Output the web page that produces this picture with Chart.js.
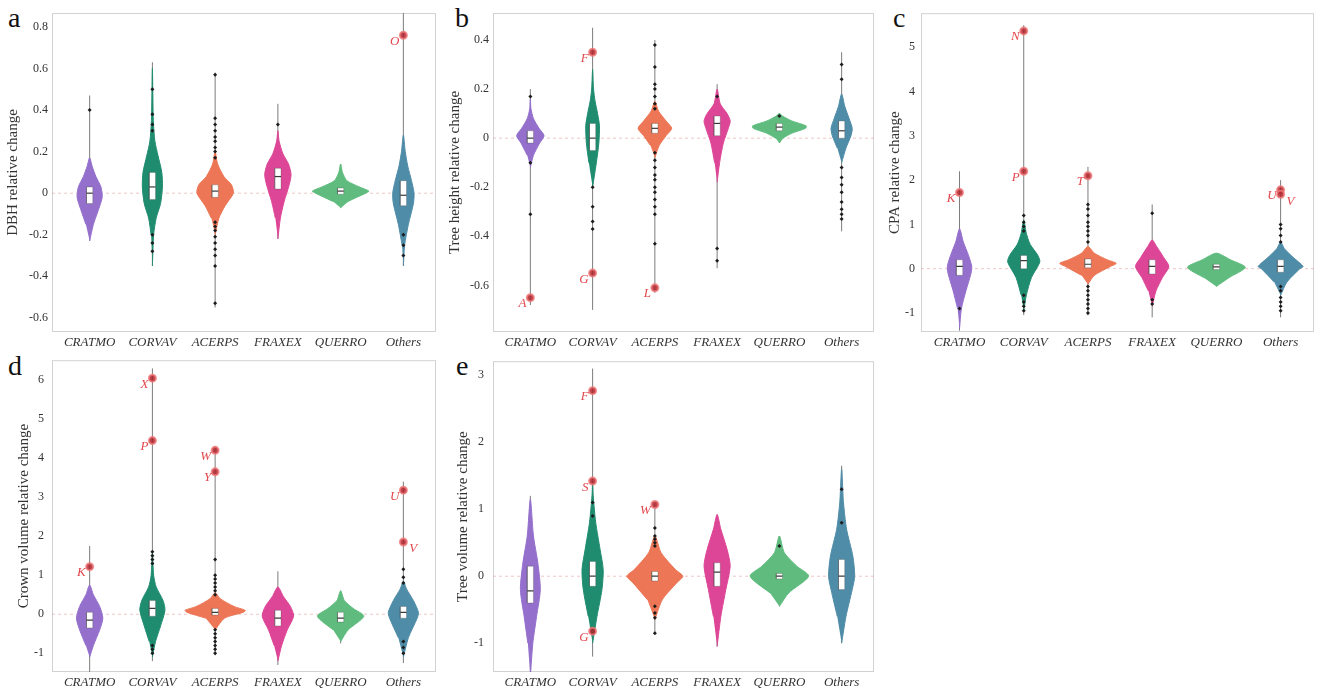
<!DOCTYPE html>
<html>
<head>
<meta charset="utf-8">
<script src="https://cdn.jsdelivr.net/npm/chart.js@4.4.0/dist/chart.umd.min.js"></script>
<style>
  body { margin: 0; background: #fff; width: 1324px; height: 693px; position: relative; overflow: hidden; }
  .panel { position: absolute; }
  .tag { position: absolute; font: 28px "Liberation Serif", serif; line-height: 28px; color: #111; }
</style>
</head>
<body>
<div class="tag" style="left:8px;top:4px">a</div>
<div class="tag" style="left:455px;top:4px">b</div>
<div class="tag" style="left:893px;top:4px">c</div>
<div class="tag" style="left:8px;top:352px">d</div>
<div class="tag" style="left:456px;top:352px">e</div>

<div class="panel" style="left:0;top:0"><canvas id="dbh" width="442" height="352"></canvas></div>
<div class="panel" style="left:440px;top:0"><canvas id="height" width="440" height="352"></canvas></div>
<div class="panel" style="left:880px;top:0"><canvas id="cpa" width="444" height="352"></canvas></div>
<div class="panel" style="left:0;top:345px"><canvas id="crown" width="442" height="347"></canvas></div>
<div class="panel" style="left:440px;top:345px"><canvas id="volume" width="440" height="347"></canvas></div>

<script>
const categories = ['CRATMO', 'CORVAV', 'ACERPS', 'FRAXEX', 'QUERRO', 'Others'];

// violin outlines: [value, half width] from bottom tip to top tip
// boxes: [q1, median, q3]; ranges: [min, max]; named: flagged trees

// DBH relative change
const dbhTicks = [0.8, 0.6, 0.4, 0.2, 0, -0.2, -0.4, -0.6];
const dbhShape = [
  [[-0.23, 0], [-0.15, 0.06], [-0.08, 0.14], [-0.02, 0.2], [0.03, 0.18], [0.08, 0.1], [0.13, 0.04], [0.17, 0]],
  [[-0.35, 0], [-0.2, 0.02], [-0.12, 0.06], [-0.05, 0.13], [0.03, 0.16], [0.1, 0.15], [0.18, 0.09], [0.25, 0.04], [0.35, 0.015], [0.6, 0]],
  [[-0.2, 0], [-0.12, 0.06], [-0.06, 0.16], [0.0, 0.29], [0.04, 0.26], [0.08, 0.14], [0.14, 0.04], [0.2, 0]],
  [[-0.22, 0], [-0.12, 0.04], [-0.04, 0.1], [0.04, 0.18], [0.09, 0.21], [0.14, 0.17], [0.19, 0.08], [0.25, 0.02], [0.3, 0]],
  [[-0.07, 0], [-0.04, 0.12], [0.0, 0.4], [0.01, 0.45], [0.03, 0.3], [0.06, 0.1], [0.1, 0.03], [0.14, 0]],
  [[-0.35, 0], [-0.25, 0.02], [-0.15, 0.08], [-0.05, 0.16], [0.0, 0.17], [0.06, 0.13], [0.13, 0.07], [0.2, 0.03], [0.28, 0]]
];
const dbhBox = [[-0.05, 0, 0.03], [-0.03, 0.03, 0.1], [-0.02, 0.01, 0.04], [0.02, 0.08, 0.12], [-0.005, 0.01, 0.025], [-0.06, -0.01, 0.06]];
const dbhRange = [[-0.23, 0.47], [-0.35, 0.63], [-0.55, 0.58], [-0.22, 0.43], [-0.07, 0.14], [-0.35, 0.95]];
const dbhOutliers = [
  [0.4],
  [0.5, 0.38, 0.33, 0.3, -0.2, -0.24, -0.28],
  [0.57, 0.36, 0.33, 0.3, 0.27, 0.25, 0.22, 0.2, 0.17, -0.14, -0.16, -0.18, -0.21, -0.24, -0.27, -0.3, -0.35, -0.53],
  [0.33],
  [],
  [-0.2, -0.25, -0.3]
];
const dbhNamed = [{ cat: 5, y: 0.76, text: 'O' }];

// Tree height relative change
const heightTicks = [0.4, 0.2, 0, -0.2, -0.4, -0.6];
const heightShape = [
  [[-0.12, 0], [-0.07, 0.05], [-0.02, 0.15], [0.01, 0.22], [0.04, 0.14], [0.08, 0.05], [0.12, 0.01], [0.16, 0]],
  [[-0.2, 0], [-0.1, 0.06], [-0.02, 0.1], [0.05, 0.11], [0.1, 0.08], [0.15, 0.04], [0.2, 0.015], [0.28, 0]],
  [[-0.08, 0], [-0.03, 0.07], [0.01, 0.18], [0.04, 0.27], [0.07, 0.18], [0.11, 0.06], [0.15, 0]],
  [[-0.18, 0], [-0.1, 0.04], [-0.02, 0.1], [0.04, 0.18], [0.07, 0.21], [0.1, 0.16], [0.14, 0.05], [0.2, 0]],
  [[-0.02, 0], [0.0, 0.06], [0.02, 0.2], [0.04, 0.42], [0.05, 0.43], [0.07, 0.2], [0.09, 0.05], [0.1, 0]],
  [[-0.1, 0], [-0.04, 0.07], [0.01, 0.15], [0.04, 0.17], [0.08, 0.12], [0.13, 0.05], [0.18, 0]]
];
const heightBox = [[-0.02, 0, 0.03], [-0.05, 0, 0.06], [0.02, 0.04, 0.06], [0.01, 0.06, 0.09], [0.03, 0.045, 0.06], [0, 0.03, 0.07]];
const heightRange = [[-0.68, 0.2], [-0.7, 0.45], [-0.63, 0.4], [-0.53, 0.22], [-0.02, 0.1], [-0.38, 0.35]];
const heightOutliers = [
  [0.17, -0.1, -0.31],
  [-0.2, -0.28, -0.34, -0.37],
  [0.38, 0.29, 0.22, 0.2, 0.17, 0.14, 0.12, -0.06, -0.09, -0.12, -0.15, -0.17, -0.2, -0.22, -0.25, -0.28, -0.31, -0.43],
  [0.17, -0.45, -0.5],
  [0.09],
  [0.3, 0.24, -0.12, -0.16, -0.19, -0.22, -0.26, -0.29, -0.31, -0.33]
];
const heightNamed = [
  { cat: 0, y: -0.65, text: 'A' },
  { cat: 1, y: 0.35, text: 'F' },
  { cat: 1, y: -0.55, text: 'G' },
  { cat: 2, y: -0.61, text: 'L' }
];

// CPA relative change
const cpaTicks = [5, 4, 3, 2, 1, 0, -1];
const cpaShape = [
  [[-1.35, 0], [-0.9, 0.03], [-0.5, 0.1], [-0.1, 0.18], [0.05, 0.19], [0.3, 0.14], [0.6, 0.06], [0.9, 0]],
  [[-0.95, 0], [-0.6, 0.04], [-0.2, 0.12], [0.15, 0.25], [0.3, 0.22], [0.55, 0.1], [0.8, 0.04], [1.1, 0]],
  [[-0.35, 0], [-0.15, 0.1], [0.05, 0.35], [0.12, 0.44], [0.2, 0.3], [0.35, 0.1], [0.5, 0]],
  [[-0.85, 0], [-0.5, 0.06], [-0.2, 0.16], [0.05, 0.26], [0.25, 0.18], [0.5, 0.07], [0.65, 0]],
  [[-0.4, 0], [-0.2, 0.2], [0.03, 0.45], [0.2, 0.22], [0.35, 0]],
  [[-0.6, 0], [-0.3, 0.1], [0.0, 0.3], [0.05, 0.35], [0.25, 0.2], [0.45, 0.06], [0.6, 0]]
];
const cpaBox = [[-0.15, 0.05, 0.2], [0, 0.18, 0.3], [0.02, 0.1, 0.22], [-0.12, 0.05, 0.2], [-0.02, 0.04, 0.1], [-0.08, 0.05, 0.2]];
const cpaRange = [[-1.4, 2.2], [-1.05, 5.5], [-1.05, 2.3], [-1.1, 1.45], [-0.4, 0.35], [-1.1, 2.0]];
const cpaOutliers = [
  [-0.9],
  [1.2, 1.05, 0.95, 0.85, -0.6, -0.75, -0.85, -0.95],
  [1.45, 1.35, 1.2, 1.05, 0.95, 0.85, 0.75, 0.6, -0.4, -0.5, -0.6, -0.7, -0.8, -0.9, -1.0],
  [1.25, -0.7, -0.8],
  [],
  [1.0, 0.9, 0.75, 0.6, -0.4, -0.5, -0.65, -0.75, -0.85, -0.95]
];
const cpaNamed = [
  { cat: 0, y: 1.72, text: 'K' },
  { cat: 1, y: 5.37, text: 'N' },
  { cat: 1, y: 2.2, text: 'P' },
  { cat: 2, y: 2.1, text: 'T' },
  { cat: 5, y: 1.78, text: 'U' },
  { cat: 5, y: 1.68, text: 'V' }
];

// Crown volume relative change
const crownTicks = [6, 5, 4, 3, 2, 1, 0, -1];
const crownShape = [
  [[-1.1, 0], [-0.8, 0.06], [-0.4, 0.16], [-0.1, 0.21], [0.2, 0.16], [0.5, 0.06], [0.75, 0]],
  [[-1.1, 0], [-0.7, 0.05], [-0.3, 0.13], [0.1, 0.2], [0.35, 0.17], [0.7, 0.06], [1.0, 0.02], [1.6, 0]],
  [[-0.4, 0], [-0.1, 0.15], [0.05, 0.45], [0.1, 0.48], [0.2, 0.3], [0.4, 0.08], [0.55, 0]],
  [[-1.2, 0], [-0.8, 0.06], [-0.4, 0.15], [-0.05, 0.25], [0.2, 0.2], [0.45, 0.09], [0.7, 0]],
  [[-0.7, 0], [-0.4, 0.12], [-0.05, 0.37], [0.15, 0.2], [0.35, 0.06], [0.6, 0]],
  [[-1.1, 0], [-0.6, 0.08], [-0.1, 0.22], [0.05, 0.24], [0.35, 0.16], [0.65, 0.05], [0.85, 0]]
];
const crownBox = [[-0.35, -0.15, 0.05], [-0.05, 0.15, 0.35], [-0.02, 0.05, 0.15], [-0.3, -0.1, 0.1], [-0.2, -0.1, 0.05], [-0.1, 0.05, 0.2]];
const crownRange = [[-1.5, 1.75], [-1.2, 6.3], [-1.05, 4.3], [-1.3, 1.1], [-0.75, 0.6], [-1.25, 3.4]];
const crownOutliers = [
  [],
  [1.6, 1.5, 1.4, 1.3, -0.8, -0.9, -1.0],
  [1.4, 1.0, 0.9, 0.8, 0.7, 0.6, 0.5, -0.4, -0.5, -0.6, -0.7, -0.8, -0.9, -1.0],
  [],
  [],
  [1.15, 0.95, 0.8, -0.7, -0.85, -1.0]
];
const crownNamed = [
  { cat: 0, y: 1.22, text: 'K' },
  { cat: 1, y: 6.05, text: 'X' },
  { cat: 1, y: 4.45, text: 'P' },
  { cat: 2, y: 4.2, text: 'W' },
  { cat: 2, y: 3.65, text: 'Y' },
  { cat: 5, y: 3.18, text: 'U' },
  { cat: 5, y: 1.85, text: 'V' }
];

// Tree volume relative change
const volumeTicks = [3, 2, 1, 0, -1];
const volumeShape = [
  [[-1.5, 0], [-1.0, 0.04], [-0.6, 0.1], [-0.2, 0.16], [0.2, 0.12], [0.6, 0.05], [1.15, 0]],
  [[-1.0, 0], [-0.6, 0.07], [-0.2, 0.15], [0.1, 0.17], [0.4, 0.12], [0.8, 0.05], [1.2, 0.01], [1.4, 0]],
  [[-0.65, 0], [-0.35, 0.12], [-0.1, 0.35], [0.0, 0.45], [0.1, 0.33], [0.35, 0.1], [0.6, 0]],
  [[-1.05, 0], [-0.6, 0.06], [-0.2, 0.14], [0.15, 0.21], [0.4, 0.16], [0.7, 0.06], [0.92, 0]],
  [[-0.45, 0], [-0.25, 0.15], [0.0, 0.47], [0.15, 0.28], [0.35, 0.08], [0.6, 0]],
  [[-1.0, 0], [-0.6, 0.07], [-0.2, 0.17], [0.0, 0.21], [0.3, 0.18], [0.7, 0.08], [1.1, 0.03], [1.6, 0]]
];
const volumeBox = [[-0.4, -0.22, 0.15], [-0.15, 0, 0.22], [-0.07, 0, 0.07], [-0.15, 0.06, 0.2], [-0.04, 0, 0.04], [-0.2, 0, 0.25]];
const volumeRange = [[-1.5, 1.2], [-1.2, 3.1], [-0.85, 1.1], [-1.05, 0.92], [-0.45, 0.6], [-1.0, 1.65]];
const volumeOutliers = [
  [],
  [1.1, 0.9],
  [0.72, 0.6, 0.55, 0.5, 0.45, -0.45, -0.55, -0.62, -0.85],
  [],
  [0.45],
  [1.3, 0.8]
];
const volumeNamed = [
  { cat: 1, y: 2.77, text: 'F' },
  { cat: 1, y: 1.42, text: 'S' },
  { cat: 1, y: -0.82, text: 'G' },
  { cat: 2, y: 1.07, text: 'W' }
];

const colours = ['#9470cc', '#1f8c70', '#ec7656', '#dd4696', '#5fbc7e', '#4f8ca8'];
const serif = '"Liberation Serif", "Times New Roman", serif';

const panels = [
  { id: 'dbh', title: 'DBH relative change', min: -0.668, max: 0.867, ticks: dbhTicks, shape: dbhShape, box: dbhBox, range: dbhRange, outliers: dbhOutliers, named: dbhNamed, axisWidth: 52, tickPad: 4, titlePad: 4, padRight: 4 },
  { id: 'height', title: 'Tree height relative change', min: -0.79, max: 0.51, ticks: heightTicks, shape: heightShape, box: heightBox, range: heightRange, outliers: heightOutliers, named: heightNamed, axisWidth: 53, tickPad: 4, titlePad: 6, padRight: 4 },
  { id: 'cpa', title: 'CPA relative change', min: -1.43, max: 5.77, ticks: cpaTicks, shape: cpaShape, box: cpaBox, range: cpaRange, outliers: cpaOutliers, named: cpaNamed, axisWidth: 41, tickPad: 6, titlePad: 6, padRight: 10 },
  { id: 'crown', title: 'Crown volume relative change', min: -1.48, max: 6.51, ticks: crownTicks, shape: crownShape, box: crownBox, range: crownRange, outliers: crownOutliers, named: crownNamed, axisWidth: 52, tickPad: 8, titlePad: 15, padRight: 4 },
  { id: 'volume', title: 'Tree volume relative change', min: -1.43, max: 3.21, ticks: volumeTicks, shape: volumeShape, box: volumeBox, range: volumeRange, outliers: volumeOutliers, named: volumeNamed, axisWidth: 53, tickPad: 9, titlePad: 14, padRight: 4 }
];

// light frame around the plotting area
const frame = {
  id: 'frame',
  beforeDatasetsDraw(chart) {
    const { ctx, chartArea: a } = chart;
    ctx.save();
    ctx.strokeStyle = '#d2d2d2';
    ctx.lineWidth = 1;
    ctx.strokeRect(a.left + 0.5, a.top + 0.5, a.width - 1, a.height - 1);
    ctx.restore();
  }
};

// letters next to the flagged trees
function namedLabels(items) {
  return {
    id: 'namedLabels',
    afterDatasetsDraw(chart) {
      const { ctx, scales: { x, y } } = chart;
      ctx.save();
      ctx.font = 'italic 13px ' + serif;
      ctx.fillStyle = '#e2474d';
      ctx.textBaseline = 'middle';
      items.forEach(n => {
        const px = x.getPixelForValue(n.cat);
        const py = y.getPixelForValue(n.y);
        if (n.text === 'V') {
          ctx.textAlign = 'left';
          ctx.fillText(n.text, px + 6, py + 7);
        } else {
          ctx.textAlign = 'right';
          ctx.fillText(n.text, px - 4, py + 6);
        }
      });
      ctx.restore();
    }
  };
}

function line(points, colour, width, order, extra) {
  return Object.assign({ data: points, showLine: true, borderColor: colour, borderWidth: width, pointRadius: 0, pointHoverRadius: 0, order }, extra || {});
}

function buildDatasets(p) {
  const sets = [];
  sets.push(line([{ x: -0.6, y: 0 }, { x: 5.6, y: 0 }], 'rgba(225,160,160,0.6)', 1, 7, { borderDash: [3, 3] }));

  p.range.forEach(([lo, hi], i) => {
    sets.push(line([{ x: i, y: lo }, { x: i, y: hi }], '#7c7c7c', 1, 6));
  });

  p.shape.forEach((prof, i) => {
    const right = prof.map(([y, w]) => ({ x: i + w, y }));
    const left = prof.slice(1, -1).reverse().map(([y, w]) => ({ x: i - w, y }));
    sets.push(line(right.concat(left), colours[i], 1, 5, { fill: 'shape', backgroundColor: colours[i], tension: 0.25 }));
  });

  const hw = 0.05;
  p.box.forEach(([q1, med, q3], i) => {
    const rect = [{ x: i - hw, y: q1 }, { x: i + hw, y: q1 }, { x: i + hw, y: q3 }, { x: i - hw, y: q3 }, { x: i - hw, y: q1 }];
    sets.push(line(rect, 'rgba(70,70,70,0.5)', 0.6, 4, { fill: 'shape', backgroundColor: '#ffffff' }));
    sets.push(line([{ x: i - hw, y: med }, { x: i + hw, y: med }], '#3a3a3a', 1.2, 3));
  });

  sets.push({
    data: p.outliers.flatMap((vals, i) => vals.map(y => ({ x: i, y }))),
    pointStyle: 'rectRot', pointRadius: 2, backgroundColor: '#1c1c1c', borderColor: '#1c1c1c', borderWidth: 0, order: 2
  });

  sets.push({
    data: p.named.map(n => ({ x: n.cat, y: n.y })),
    pointRadius: 3.5, backgroundColor: 'rgba(175,35,45,0.85)', borderColor: 'rgba(240,120,120,0.8)', borderWidth: 2, order: 1
  });
  return sets;
}

panels.forEach(p => {
  new Chart(document.getElementById(p.id), {
    type: 'scatter',
    data: { datasets: buildDatasets(p) },
    options: {
      responsive: false,
      animation: false,
      layout: { padding: { top: 13, right: p.padRight, left: 0, bottom: 0 } },
      plugins: { legend: { display: false }, tooltip: { enabled: false } },
      scales: {
        x: {
          type: 'linear', min: -0.6, max: 5.52,
          grid: { display: false, drawTicks: false }, border: { display: false },
          afterBuildTicks: s => { s.ticks = categories.map((c, i) => ({ value: i })); },
          afterFit: s => { s.height = 20; },
          ticks: {
            callback: v => categories[v], autoSkip: false, maxRotation: 0, padding: 3,
            color: '#333', font: { family: serif, style: 'italic', size: 13 }
          }
        },
        y: {
          min: p.min, max: p.max,
          grid: { display: false, drawTicks: false }, border: { display: false },
          afterBuildTicks: s => { s.ticks = p.ticks.map(v => ({ value: v })); },
          afterFit: s => { s.width = p.axisWidth; },
          ticks: {
            callback: v => String(Number(v.toFixed(2))), padding: p.tickPad,
            color: '#333', font: { family: serif, size: 12 }
          },
          title: {
            display: true, text: p.title, color: '#333',
            font: { family: serif, size: 15 }, padding: { top: p.titlePad, bottom: 0 }
          }
        }
      }
    },
    plugins: [frame, namedLabels(p.named)]
  });
});
</script>
</body>
</html>
